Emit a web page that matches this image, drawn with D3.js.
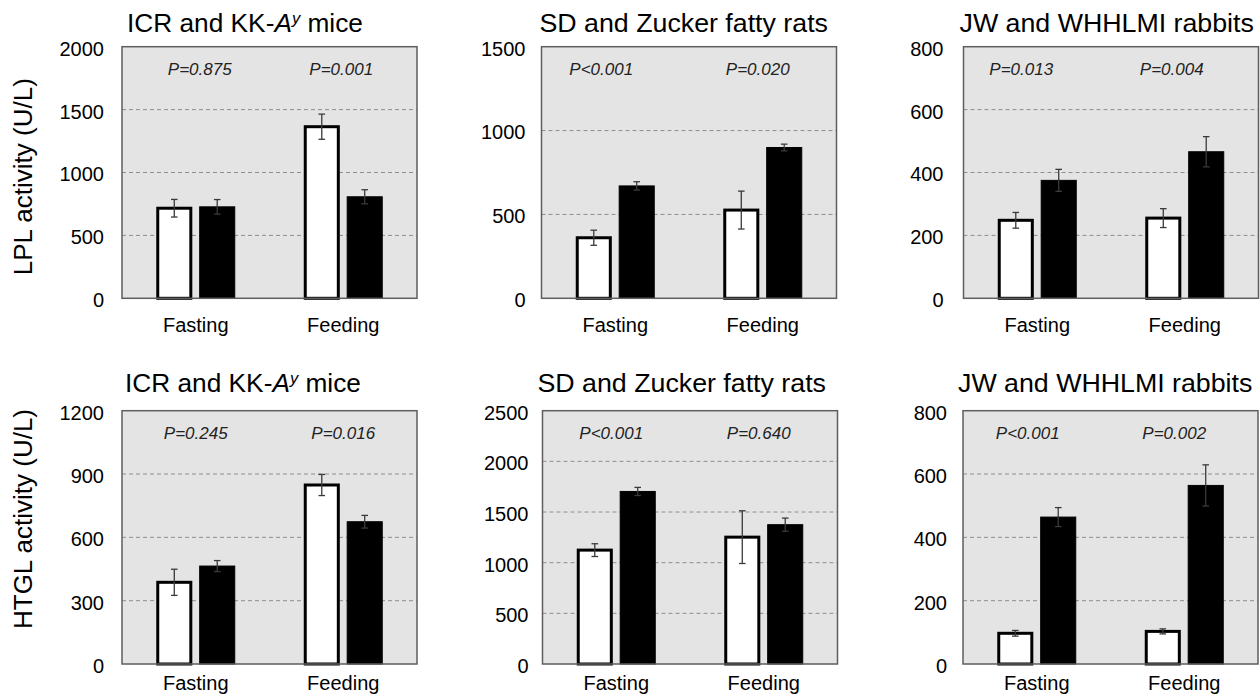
<!DOCTYPE html>
<html><head><meta charset="utf-8">
<script src="https://cdn.jsdelivr.net/npm/d3@7"></script>
<style>
html,body{margin:0;padding:0;background:#fff;}
svg{display:block;font-family:"Liberation Sans",Arial,sans-serif;}
</style></head>
<body>
<svg id="chart" width="1260" height="695"></svg>
<script>
// ---- data ----
const categories = ["Fasting", "Feeding"];
const panelTitles = ["ICR and KK-Ay mice", "SD and Zucker fatty rats", "JW and WHHLMI rabbits",
                     "ICR and KK-Ay mice", "SD and Zucker fatty rats", "JW and WHHLMI rabbits"];
const yAxisTitles = ["LPL activity (U/L)", "HTGL activity (U/L)"];
const yMax = [2000, 1500, 800, 1200, 2500, 800];
const yTickStep = [500, 500, 200, 300, 500, 200];
const controlMeans = [[716, 1364], [361, 526], [248, 255], [387, 848], [1124, 1252], [97, 103]];
const controlSE    = [[70, 100], [45, 113], [25, 30], [62, 50], [63, 260], [9, 8]];
const modelMeans   = [[727, 807], [670, 899], [375, 466], [464, 674], [1703, 1375], [464, 564]];
const modelSE      = [[58, 56], [25, 20], [35, 48], [26, 30], [40, 65], [30, 65]];
const pLabels = [["P=0.875", "P=0.001"], ["P<0.001", "P=0.020"], ["P=0.013", "P=0.004"],
                 ["P=0.245", "P=0.016"], ["P<0.001", "P=0.640"], ["P<0.001", "P=0.002"]];

// ---- layout ----
const boxLefts = [122, 541.5, 963.5, 122, 542.5, 963];
const boxW = 295;
const rowTop = [46.7, 410.7];
const rowBottom = [298.3, 664];
const titleBase = [31.7, 391.7];
const titleDx = [5, -2, -4, 3, -5, -5];
const titleSx = [1.03, 1.05, 1.05, 1.03, 1.05, 1.05];
const tickGap = [18, 16, 20, 18, 14, 16];
const catLabelDy = [34, 25.5];
const pDx = [[4, -2], [-14, -5], [-16, -13], [0, 0], [-5, -5], [-9, -10]];
const pBaseDy = 28.5;

const svg = d3.select("#chart");

function stretchText(sel, x, y, sx) {
  return sel.attr("transform", `translate(${x},${y}) scale(${sx},1)`);
}

for (let i = 0; i < 6; i++) {
  const row = i < 3 ? 0 : 1;
  const x0 = boxLefts[i], top = rowTop[row], bottom = rowBottom[row];
  const g = svg.append("g");

  const x = d3.scaleBand().domain(categories).range([x0, x0 + boxW]);
  const x1 = d3.scaleBand().domain(["control", "model"]).range([-39.5, 39.5]).paddingInner(0.16);
  const y = d3.scaleLinear().domain([0, yMax[i]]).range([bottom, top]);
  const ticks = d3.range(0, yMax[i] + 1, yTickStep[i]);

  // background box
  g.append("rect").attr("x", x0).attr("y", top).attr("width", boxW).attr("height", bottom - top)
    .attr("fill", "#e4e4e4");

  // gridlines
  g.selectAll(".grid").data(ticks.filter(t => t > 0 && t < yMax[i])).enter().append("line")
    .attr("x1", x0).attr("x2", x0 + boxW).attr("y1", d => y(d)).attr("y2", d => y(d))
    .attr("stroke", "#8f8f8f").attr("stroke-width", 1).attr("stroke-dasharray", "4,3");

  // y axis via d3.axisLeft, styled
  const ax = g.append("g").attr("transform", `translate(${x0 - tickGap[i]},0)`)
    .call(d3.axisLeft(y).tickValues(ticks).tickSize(0).tickPadding(0).tickFormat(d3.format("d")));
  ax.select(".domain").remove();
  ax.selectAll("text").attr("font-size", 20).attr("fill", "#000")
    .attr("font-family", "Liberation Sans, Arial, sans-serif").attr("dy", "0.42em");

  // bars
  const groups = g.selectAll(".grp").data(categories).enter().append("g")
    .attr("transform", d => `translate(${x(d) + x.bandwidth() / 2},0)`);

  groups.each(function (cat, j) {
    const gg = d3.select(this);
    const bw = x1.bandwidth();
    const cv = controlMeans[i][j], ce = controlSE[i][j];
    const mv = modelMeans[i][j], me = modelSE[i][j];
    // control (white)
    gg.append("rect").attr("x", x1("control") + 1.5).attr("y", y(cv))
      .attr("width", bw - 3).attr("height", y(0) - y(cv))
      .attr("fill", "#fff").attr("stroke", "#000").attr("stroke-width", 3);
    // model (black)
    gg.append("rect").attr("x", x1("model") + 0.5).attr("y", y(mv))
      .attr("width", bw - 1).attr("height", y(0) - y(mv))
      .attr("fill", "#000").attr("stroke", "#000").attr("stroke-width", 1);
    // error bars
    [["control", cv, ce], ["model", mv, me]].forEach(([k, v, e]) => {
      const cx = x1(k) + bw / 2;
      const eg = gg.append("g").attr("stroke", "#3a3a3a").attr("stroke-width", 1.3);
      eg.append("line").attr("x1", cx).attr("x2", cx).attr("y1", y(v + e)).attr("y2", y(v - e));
      eg.append("line").attr("x1", cx - 3.3).attr("x2", cx + 3.3).attr("y1", y(v + e)).attr("y2", y(v + e));
      eg.append("line").attr("x1", cx - 3.3).attr("x2", cx + 3.3).attr("y1", y(v - e)).attr("y2", y(v - e));
    });
    // P labels
    gg.append("text").attr("x", pDx[i][j]).attr("y", top + pBaseDy)
      .attr("text-anchor", "middle").attr("font-size", 17).attr("font-style", "italic")
      .attr("fill", "#222").text(pLabels[i][j]);
    // category label
    gg.append("text").attr("x", 0).attr("y", bottom + catLabelDy[row])
      .attr("text-anchor", "middle").attr("font-size", 20).attr("fill", "#000").text(cat);
  });

  // box border
  g.append("rect").attr("x", x0).attr("y", top).attr("width", boxW).attr("height", bottom - top)
    .attr("fill", "none").attr("stroke", "#5e5e5e").attr("stroke-width", 1.5);

  // title
  const t = g.append("text").attr("font-size", 25.5).attr("fill", "#000");
  stretchText(t, x0 + titleDx[i], titleBase[row], titleSx[i]);
  const title = panelTitles[i];
  if (title.indexOf("KK-Ay") >= 0) {
    t.append("tspan").text("ICR and KK-");
    t.append("tspan").attr("font-style", "italic").text("A");
    t.append("tspan").attr("font-style", "italic").attr("font-size", 16).attr("dy", -8).text("y");
    t.append("tspan").attr("dy", 8).text(" mice");
  } else {
    t.text(title);
  }
}

// y-axis titles
yAxisTitles.forEach((txt, r) => {
  const cy = r === 0 ? 176.7 : 519;
  svg.append("text").attr("transform", `translate(32,${cy}) rotate(-90)`)
    .attr("text-anchor", "middle").attr("font-size", 26).attr("fill", "#000").text(txt);
});
</script>
</body></html>
